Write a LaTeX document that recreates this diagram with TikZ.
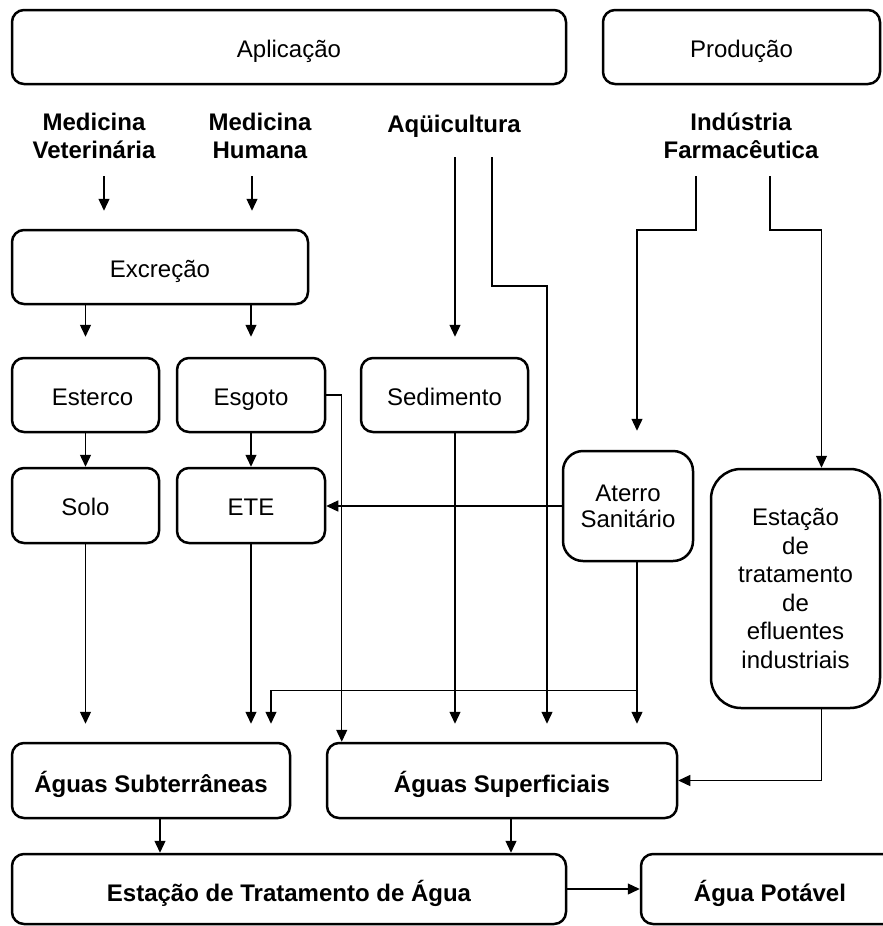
\documentclass[tikz,border=0pt]{standalone}
\usepackage{fontspec}
\setmainfont{Liberation Sans}
\usetikzlibrary{arrows.meta}

\begin{document}
\begin{tikzpicture}[x=1pt, y=-1pt,
		>={Triangle[length=12pt,width=11pt]},
		seta/.style={->, line width=1.3pt},
		base/.style={draw, line width=2.5pt, rounded corners=12pt, inner sep=0pt, align=center, font=\fontsize{24}{28.5}\selectfont},
		caixa/.style={base, text height=20pt, text depth=0pt},
		caixab/.style={base, text height=24pt, text depth=0pt, font=\bfseries\fontsize{24}{28.5}\selectfont},
		rotulo/.style={align=center, inner sep=0pt, font=\bfseries\fontsize{24}{28}\selectfont}]
		\useasboundingbox (0,0) rectangle (883,926);

		% origem
		\draw (289,47) node[caixa, minimum width=554pt, minimum height=74pt] (aplic) {Aplicação};
		\draw (741.5,47) node[caixa, minimum width=277pt, minimum height=74pt] (prod) {Produção};

		\draw (94,136) node[rotulo] (medvet) {Medicina\\Veterinária};
		\draw (260,136) node[rotulo] (medhum) {Medicina\\Humana};
		\draw (454,126) node[rotulo] (aqui) {Aqüicultura};
		\draw (741,136) node[rotulo] (indfarm) {Indústria\\Farmacêutica};

		% caminhos
		\draw (160,267) node[caixa, minimum width=296pt, minimum height=74pt] (excr) {Excreção};
		\draw (85.5,395) node[caixa, minimum width=147pt, minimum height=74pt] (esterco) {\hspace*{14pt}Esterco};
		\draw (251,395) node[caixa, minimum width=148pt, minimum height=74pt] (esgoto) {Esgoto};
		\draw (444.5,395) node[caixa, minimum width=167pt, minimum height=74pt] (sedim) {Sedimento};
		\draw (85.5,505.5) node[caixa, minimum width=147pt, minimum height=75pt] (solo) {Solo};
		\draw (251,505.5) node[caixa, minimum width=148pt, minimum height=75pt] (ete) {ETE};
		\draw (628,506) node[base, rounded corners=20pt, minimum width=130pt, minimum height=110pt, font=\fontsize{24}{26}\selectfont] (aterro) {Aterro\\Sanitário};
		\draw (795.5,588.5) node[base, rounded corners=30pt, minimum width=169pt, minimum height=239pt] (estef) {Estação\\de\\tratamento\\de\\efluentes\\industriais};

		% destino
		\draw (151,780.5) node[caixab, minimum width=278pt, minimum height=75pt] (aguasub) {Águas Subterrâneas};
		\draw (502,780.5) node[caixab, minimum width=350pt, minimum height=75pt] (aguasup) {Águas Superficiais};
		\draw (289,889) node[caixab, minimum width=554pt, minimum height=70pt] (eta) {Estação de Tratamento de Água};
		\draw (770,889) node[caixab, minimum width=258pt, minimum height=70pt] (potavel) {Água Potável};

		\draw [seta, shorten >=18pt] ([xshift=10pt,yshift=-40pt]medvet.center) -- ([xshift=-56pt]excr.north);
		\draw [seta, shorten >=18pt] ([xshift=-8pt,yshift=-40pt]medhum.center) -- ([xshift=92pt]excr.north);
		\draw [seta, shorten >=20pt] (excr.south -| esterco.north) -- (esterco.north);
		\draw [seta, shorten >=20pt] (excr.south -| esgoto.north) -- (esgoto.north);
		\draw [seta, shorten >=20pt] ([xshift=1pt,yshift=-31pt]aqui.center) -- ([xshift=10.5pt]sedim.north);
		\draw [seta, shorten >=18pt] ([xshift=38pt,yshift=-31pt]aqui.center) -- ++(0,129) -| ([xshift=45pt]aguasup.north);
		\draw [seta, shorten >=19pt] ([xshift=-45pt,yshift=-40pt]indfarm.center) -- ++(0,54) -| ([xshift=9pt]aterro.north);
		\draw [seta] ([xshift=29pt,yshift=-40pt]indfarm.center) -- ++(0,54) -| ([xshift=26pt]estef.north);

		\draw [seta] (esterco) -- (solo);
		\draw [seta] (esgoto) -- (ete);
		\draw [seta] (esgoto.east) -| ([xshift=16pt]aguasup.north west);
		\draw [seta] (aterro.west) -- (aterro.west -| ete.east);

		\draw [seta, shorten >=18pt] (solo.south) -- (solo.south |- aguasub.north);
		\draw [seta, shorten >=18pt] (ete.south) -- (ete.south |- aguasub.north);
		\draw [seta, shorten >=18pt] ([xshift=10.5pt]sedim.south) -- ([xshift=10.5pt]sedim.south |- aguasup.north);
		\draw [seta, shorten >=18pt] ([xshift=9pt]aterro.south) -- ([xshift=135pt]aguasup.north);
		\draw [seta, shorten >=18pt] ([xshift=9pt,yshift=-128pt]aterro.south) -| ([xshift=120pt]aguasub.north);
		\draw [seta] ([xshift=26pt]estef.south) |- (aguasup.east);

		\draw [seta] ([xshift=9pt]aguasub.south) -- ([xshift=9pt]aguasub.south |- eta.north);
		\draw [seta] ([xshift=9pt]aguasup.south) -- ([xshift=9pt]aguasup.south |- eta.north);
		\draw [seta] (eta.east) -- (potavel.west);
	\end{tikzpicture}
\end{document}
